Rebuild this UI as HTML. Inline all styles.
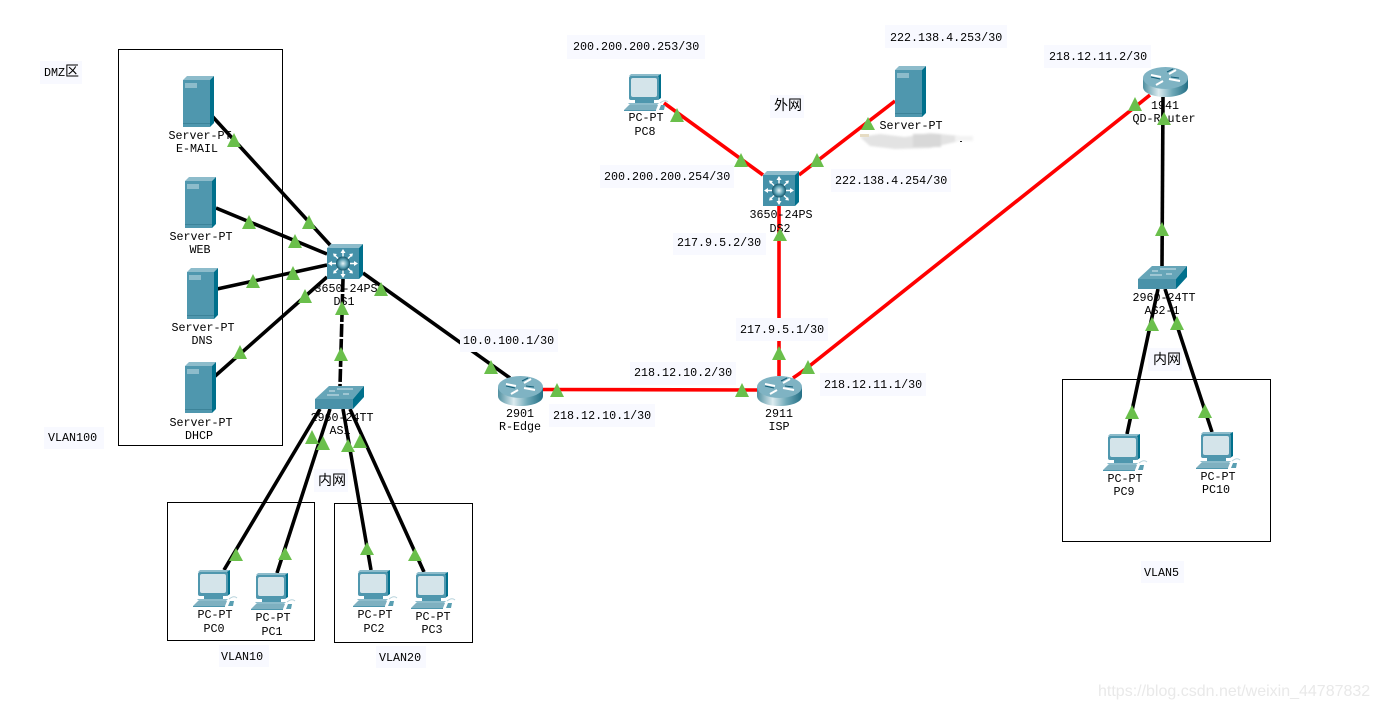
<!DOCTYPE html>
<html><head><meta charset="utf-8">
<style>
html,body{margin:0;padding:0;background:#fff}
svg{display:block}
text{font-family:"Liberation Mono","WenQuanYi Zen Hei",monospace;font-size:11.7px;fill:#000}
.c{text-anchor:middle}
.z{font-family:"WenQuanYi Zen Hei","Noto Sans CJK SC",sans-serif;font-size:14px}
.k{stroke:#000;stroke-width:3.6;fill:none}
.r{stroke:#f00;stroke-width:3.6;fill:none}
.b{fill:none;stroke:#000;stroke-width:1}
.l{fill:#f8f9ff}
.t{fill:#6abf4b}
</style></head><body>
<svg width="1379" height="709" viewBox="0 0 1379 709" xmlns="http://www.w3.org/2000/svg">
<defs>
<filter id="soft" x="-10%" y="-30%" width="120%" height="160%"><feGaussianBlur stdDeviation="1"/></filter>
<linearGradient id="rg" x1="0" x2="1" y1="0" y2="0"><stop offset="0" stop-color="#4f8fa0"/><stop offset=".35" stop-color="#dcebef"/><stop offset=".65" stop-color="#6fa9b8"/><stop offset="1" stop-color="#246f85"/></linearGradient>
<radialGradient id="ball"><stop offset="0" stop-color="#e8f4f7"/><stop offset=".6" stop-color="#5a9fb2"/><stop offset="1" stop-color="#14556a"/></radialGradient>
<symbol id="srv" width="31" height="51" overflow="visible">
<polygon points="0,4 4,0 31,0 27,4" fill="#8dbccb"/>
<polygon points="27,4 31,0 31,47 27,51" fill="#00708c"/>
<rect x="0" y="4" width="27" height="47" fill="#4f97ae"/>
<rect x="2" y="7" width="12" height="5" fill="#8dbccb"/>
<rect x="0" y="47" width="27" height="1" fill="#3c8399"/>
</symbol>
<symbol id="sw3" width="36" height="35" overflow="visible">
<polygon points="0,4 4,0 36,0 32,4" fill="#8dbccb"/>
<polygon points="32,4 36,0 36,31 32,35" fill="#00708c"/>
<rect x="0" y="4" width="32" height="31" fill="#4591a9"/>
<g stroke="#fff" stroke-width="1.4">
<line x1="16" y1="7" x2="16" y2="32"/><line x1="3" y1="19.500" x2="29" y2="19.500"/>
<line x1="7" y1="10.500" x2="25" y2="28.500"/><line x1="25" y1="10.500" x2="7" y2="28.500"/>
</g>
<g fill="#fff">
<polygon points="16,5 13.500,9 18.500,9"/><polygon points="16,34 13.500,30 18.500,30"/>
<polygon points="1,19.500 5,17 5,22"/><polygon points="31,19.500 27,17 27,22"/>
<polygon points="6,9.500 10,10 7,13"/><polygon points="26,9.500 22,10 25,13"/>
<polygon points="6,29.500 10,29 7,26"/><polygon points="26,29.500 22,29 25,26"/>
</g>
<circle cx="16" cy="19.500" r="7" fill="url(#ball)"/>
</symbol>
<symbol id="sw2" width="49" height="23" overflow="visible">
<polygon points="0,13 14,0 49,0 38,13" fill="#66a5b8"/>
<polygon points="38,13 49,0 49,11 38,23" fill="#00708c"/>
<rect x="0" y="13" width="38" height="10" fill="#4a92a9"/>
<g stroke="#d5e8ee" stroke-width="1">
<line x1="22" y1="3" x2="38" y2="3"/><line x1="12" y1="9" x2="24" y2="9"/><line x1="28" y1="8" x2="34" y2="8"/><line x1="14" y1="5" x2="20" y2="5"/>
</g>
</symbol>
<symbol id="rt" width="45" height="30" overflow="visible">
<path d="M0,11 V20 C0,26 10,30 22.500,30 S45,26 45,20 V11 Z" fill="url(#rg)"/>
<ellipse cx="22.500" cy="11" rx="22.500" ry="11" fill="#7fb3c3"/>
<g stroke="#fff" stroke-width="2"><line x1="8" y1="8" x2="18" y2="10"/><line x1="26" y1="12" x2="37" y2="14"/><line x1="26" y1="7" x2="33" y2="3"/><line x1="13" y1="18" x2="20" y2="14"/></g>
<g stroke="#14607a" stroke-width="1"><line x1="8" y1="10" x2="17" y2="12"/><line x1="28" y1="10" x2="36" y2="11"/><line x1="24" y1="5" x2="30" y2="2"/></g>
</symbol>
<symbol id="pc" width="44" height="37" overflow="visible">
<polygon points="5,2 7,0 37,0 35,2" fill="#8dbccb"/>
<polygon points="34,2 37,0 37,24 34,26" fill="#00708c"/>
<rect x="5" y="2" width="30" height="24" rx="2" fill="#4f97ae"/>
<rect x="7" y="4" width="26" height="19" rx="2" fill="#d4e4ea"/>
<rect x="11" y="26" width="19" height="3" fill="#4f97ae"/>
<polygon points="4,29 35,29 32,32 7,32" fill="#8dbccb"/>
<polygon points="0,36 5,31 34,31 32,36" fill="#7eb0c0"/>
<rect x="0" y="36" width="32" height="1" fill="#4f97ae"/>
<polygon points="35,36 37,31 41,31 40,36" fill="#5a9fb2"/>
<path d="M36,29 q5,-4 8,-1" fill="none" stroke="#b6d2db" stroke-width="1"/>
</symbol>
</defs>
<rect width="1379" height="709" fill="#fff"/>

<!-- boxes -->
<rect class="b" x="118.500" y="49.500" width="164" height="396"/>
<rect class="b" x="167.500" y="502.500" width="147" height="138"/>
<rect class="b" x="334.500" y="503.500" width="138" height="139"/>
<rect class="b" x="1062.500" y="379.500" width="208" height="162"/>

<!-- links -->
<line class="k" x1="212" y1="116" x2="331" y2="246"/>
<line class="k" x1="216" y1="208" x2="327" y2="254"/>
<line class="k" x1="217" y1="289" x2="327" y2="265"/>
<line class="k" x1="214" y1="377" x2="327" y2="277"/>
<line class="k" x1="343" y1="279" x2="340" y2="386" stroke-dasharray="13 2"/>
<line class="k" x1="363" y1="273" x2="510" y2="378"/>
<line class="k" x1="320" y1="409" x2="224" y2="570"/>
<line class="k" x1="330" y1="409" x2="277" y2="573"/>
<line class="k" x1="343" y1="409" x2="371" y2="570"/>
<line class="k" x1="350" y1="409" x2="424" y2="572"/>
<line class="k" x1="1163" y1="97" x2="1162" y2="266"/>
<line class="k" x1="1158" y1="289" x2="1127" y2="434"/>
<line class="k" x1="1165" y1="289" x2="1212" y2="432"/>
<line class="r" x1="543" y1="389.500" x2="757" y2="390"/>
<line class="r" x1="779" y1="376" x2="779" y2="206"/>
<path class="r" d="M793,378 Q802,372 812,364 L1150,95"/>
<line class="r" x1="664" y1="103" x2="763" y2="175"/>
<line class="r" x1="895" y1="101" x2="799" y2="175"/>

<!-- devices -->
<use href="#srv" x="183" y="76"/>
<use href="#srv" x="185" y="177"/>
<use href="#srv" x="187" y="268"/>
<use href="#srv" x="185" y="362"/>
<use href="#srv" x="895" y="66"/>
<use href="#sw3" x="327" y="244"/>
<use href="#sw3" x="763" y="171"/>
<use href="#sw2" x="315" y="386"/>
<use href="#sw2" x="1138" y="266"/>
<use href="#rt" x="498" y="376"/>
<use href="#rt" x="757" y="376"/>
<use href="#rt" x="1143" y="67"/>
<use href="#pc" x="193" y="570"/>
<use href="#pc" x="251" y="573"/>
<use href="#pc" x="353" y="570"/>
<use href="#pc" x="411" y="572"/>
<use href="#pc" x="624" y="74"/>
<use href="#pc" x="1103" y="434"/>
<use href="#pc" x="1196" y="432"/>

<!-- blurred patch -->
<g filter="url(#soft)">
<path d="M860,137 L880,134 L905,137 L930,133 L960,136 L973,136 L955,142 L930,148 L895,149 L870,146 Z" fill="#e3e3e3"/>
<rect x="913" y="134" width="28" height="13" fill="#d8d8d8"/>
<rect x="955" y="136" width="18" height="5" fill="#f3f3f3"/>
</g>
<rect x="860" y="134" width="9" height="3" fill="#e6dcc4"/>
<rect x="960" y="141" width="2" height="1" fill="#222"/>

<!-- label backgrounds -->
<rect class="l" x="567" y="35" width="138" height="24"/>
<rect class="l" x="885" y="25" width="122" height="23"/>
<rect class="l" x="1044" y="45" width="107" height="23"/>
<rect class="l" x="770" y="95" width="34" height="23"/>
<rect class="l" x="600" y="165" width="134" height="23"/>
<rect class="l" x="831" y="169" width="120" height="23"/>
<rect class="l" x="673" y="233" width="93" height="22"/>
<rect class="l" x="736" y="318" width="92" height="23"/>
<rect class="l" x="820" y="373" width="106" height="23"/>
<rect class="l" x="630" y="362" width="106" height="23"/>
<rect class="l" x="549" y="404" width="106" height="23"/>
<rect class="l" x="460" y="329" width="98" height="23"/>
<rect class="l" x="40" y="61" width="42" height="23"/>
<rect class="l" x="44" y="427" width="60" height="22"/>
<rect class="l" x="219" y="645" width="50" height="22"/>
<rect class="l" x="376" y="646" width="50" height="22"/>
<rect class="l" x="1141" y="561" width="43" height="22"/>
<rect class="l" x="314" y="469" width="34" height="23"/>
<rect class="l" x="1148" y="348" width="34" height="23"/>

<!-- labels -->
<text x="573" y="50">200.200.200.253/30</text>
<text x="890" y="41">222.138.4.253/30</text>
<text x="1049" y="60">218.12.11.2/30</text>
<text x="774" y="110" class="z">外网</text>
<text x="604" y="180">200.200.200.254/30</text>
<text x="835" y="184">222.138.4.254/30</text>
<text x="677" y="246">217.9.5.2/30</text>
<text x="740" y="333">217.9.5.1/30</text>
<text x="824" y="388">218.12.11.1/30</text>
<text x="634" y="376">218.12.10.2/30</text>
<text x="553" y="419">218.12.10.1/30</text>
<text x="463" y="344">10.0.100.1/30</text>
<text x="44" y="76">DMZ<tspan class="z" style="font-size:14px">区</tspan></text>
<text x="48" y="441">VLAN100</text>
<text x="221" y="660">VLAN10</text>
<text x="379" y="661">VLAN20</text>
<text x="1144" y="576">VLAN5</text>
<text x="318" y="485" class="z">内网</text>
<text x="1153" y="364" class="z">内网</text>

<text class="c" x="200" y="139">Server-PT</text><text class="c" x="197" y="152">E-MAIL</text>
<text class="c" x="201" y="240">Server-PT</text><text class="c" x="200" y="253">WEB</text>
<text class="c" x="203" y="331">Server-PT</text><text class="c" x="202" y="344">DNS</text>
<text class="c" x="201" y="426">Server-PT</text><text class="c" x="199" y="439">DHCP</text>
<text class="c" x="911" y="129">Server-PT</text>
<text class="c" x="346" y="292">3650-24PS</text><text class="c" x="344" y="305">DS1</text>
<text class="c" x="781" y="218">3650-24PS</text><text class="c" x="780" y="232">DS2</text>
<text class="c" x="342" y="421">2960-24TT</text><text class="c" x="340" y="434">AS1</text>
<text class="c" x="1164" y="301">2960-24TT</text><text class="c" x="1162" y="314">AS2-1</text>
<text class="c" x="520" y="417">2901</text><text class="c" x="520" y="430">R-Edge</text>
<text class="c" x="779" y="417">2911</text><text class="c" x="779" y="430">ISP</text>
<text class="c" x="1165" y="109">1941</text><text class="c" x="1164" y="122">QD-Router</text>
<text class="c" x="215" y="618">PC-PT</text><text class="c" x="214" y="632">PC0</text>
<text class="c" x="273" y="621">PC-PT</text><text class="c" x="272" y="635">PC1</text>
<text class="c" x="375" y="618">PC-PT</text><text class="c" x="374" y="632">PC2</text>
<text class="c" x="433" y="620">PC-PT</text><text class="c" x="432" y="633">PC3</text>
<text class="c" x="646" y="121">PC-PT</text><text class="c" x="645" y="135">PC8</text>
<text class="c" x="1125" y="482">PC-PT</text><text class="c" x="1124" y="495">PC9</text>
<text class="c" x="1218" y="480">PC-PT</text><text class="c" x="1216" y="493">PC10</text>

<!-- link lights -->
<g class="t">
<polygon points="234,133 241,147 227,147"/>
<polygon points="309,215 316,229 302,229"/>
<polygon points="249,215 256,229 242,229"/>
<polygon points="295,234 302,248 288,248"/>
<polygon points="253,274 260,288 246,288"/>
<polygon points="293,266 300,280 286,280"/>
<polygon points="240,345 247,359 233,359"/>
<polygon points="305,289 312,303 298,303"/>
<polygon points="342,301 349,315 335,315"/>
<polygon points="341,347 348,361 334,361"/>
<polygon points="381,282 388,296 374,296"/>
<polygon points="491,360 498,374 484,374"/>
<polygon points="557,383 564,397 550,397"/>
<polygon points="742,383 749,397 735,397"/>
<polygon points="779,346 786,360 772,360"/>
<polygon points="780,228 787,241 773,241"/>
<polygon points="808,360 815,374 801,374"/>
<polygon points="1135,97 1142,111 1128,111"/>
<polygon points="677,108 684,122 670,122"/>
<polygon points="741,153 748,167 734,167"/>
<polygon points="868,117 875,130 861,130"/>
<polygon points="817,153 824,167 810,167"/>
<polygon points="1164,112 1171,125 1157,125"/>
<polygon points="1162,222 1169,236 1155,236"/>
<polygon points="1152,317 1159,331 1145,331"/>
<polygon points="1132,405 1139,419 1125,419"/>
<polygon points="1177,316 1184,330 1170,330"/>
<polygon points="1205,404 1212,418 1198,418"/>
<polygon points="312,430 319,444 305,444"/>
<polygon points="236,548 243,561 229,561"/>
<polygon points="323,436 330,450 316,450"/>
<polygon points="285,547 292,560 278,560"/>
<polygon points="348,439 355,452 341,452"/>
<polygon points="367,542 374,555 360,555"/>
<polygon points="360,434 367,448 353,448"/>
<polygon points="415,548 422,561 408,561"/>
</g>

<!-- watermark -->
<text x="1098" y="696" style="font-family:'Liberation Sans',sans-serif;font-size:16px;fill:#e9e9e9">https://blog.csdn.net/weixin_44787832</text>
</svg>
</body></html>
